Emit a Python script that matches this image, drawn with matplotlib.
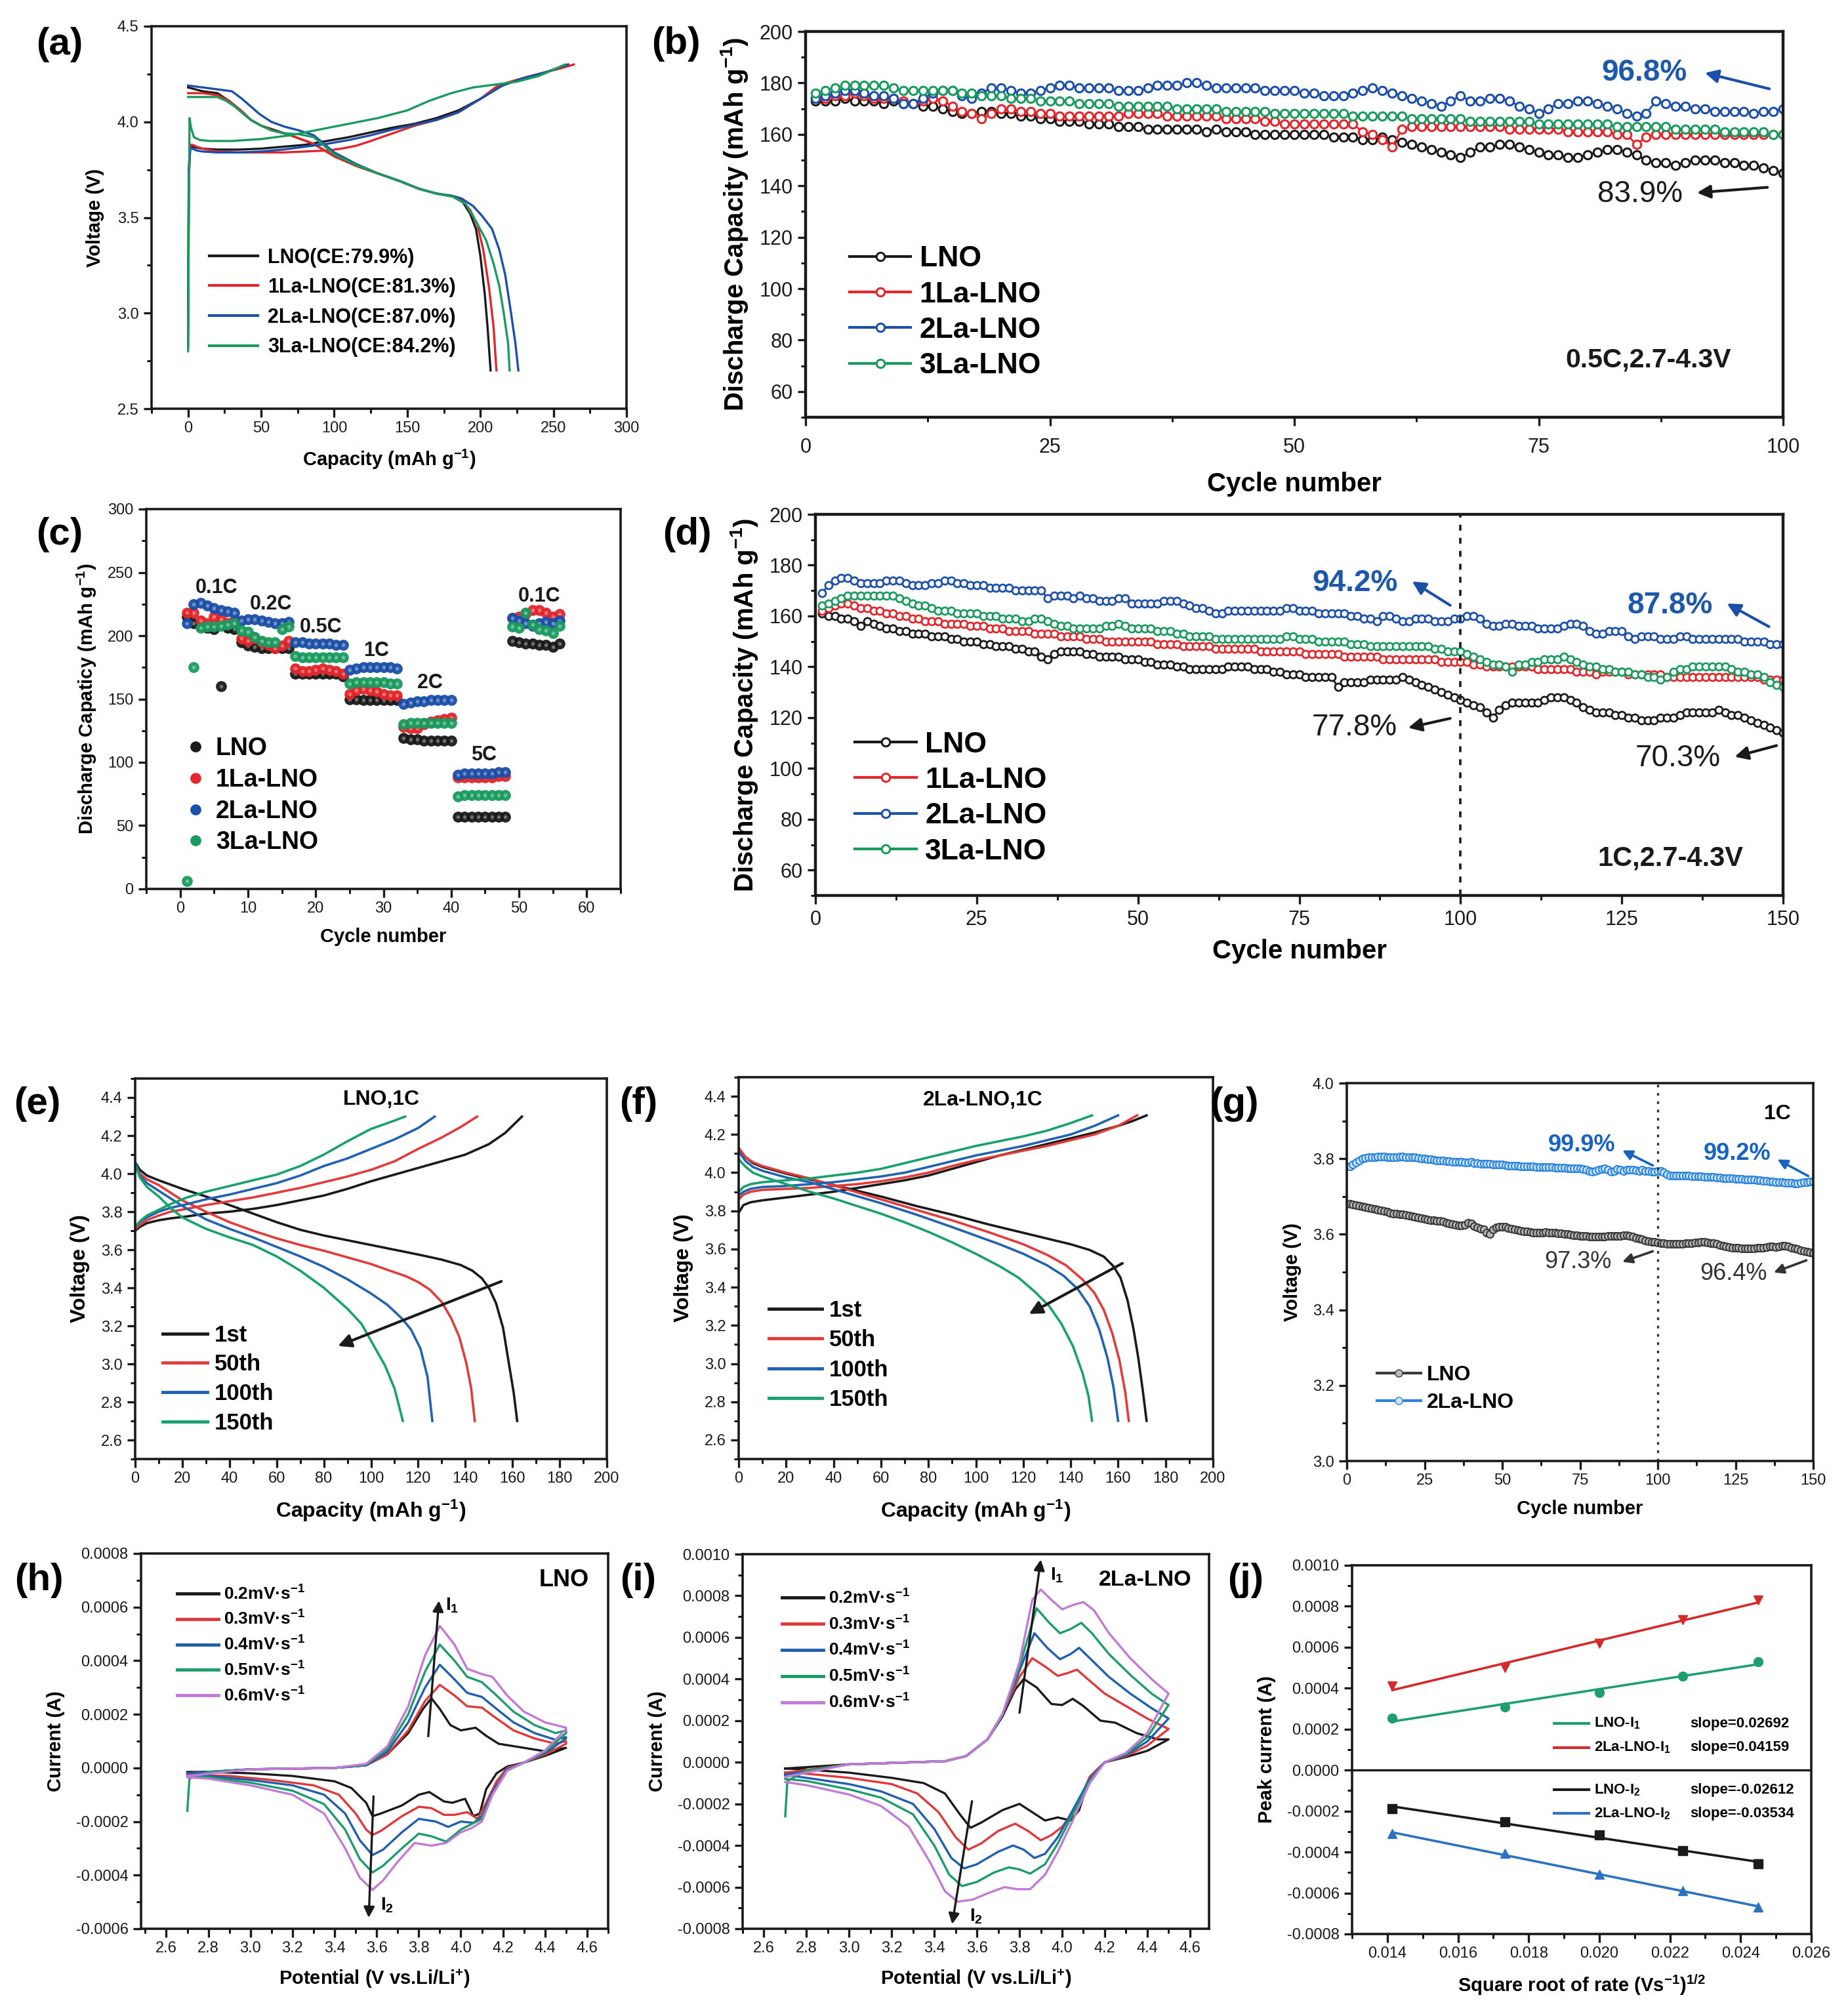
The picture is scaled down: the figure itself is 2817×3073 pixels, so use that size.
import numpy as np
import matplotlib
matplotlib.use('Agg')
import matplotlib.pyplot as plt
from matplotlib.ticker import MultipleLocator, FormatStrFormatter
from matplotlib.lines import Line2D

# ----------------------------------------------------------------- DATA
SAMPLES = ['LNO', '1La-LNO', '2La-LNO', '3La-LNO']

# (a) first charge / discharge
A_LABELS = ['LNO(CE:79.9%)', '1La-LNO(CE:81.3%)', '2La-LNO(CE:87.0%)', '3La-LNO(CE:84.2%)']
A_CH_X = [
    [0, 0.5, 1.5, 3, 6, 10, 20, 35, 50, 65, 80, 95, 110, 125, 140, 155, 170, 185, 200, 215, 230, 245, 260],
    [0, 0.5, 1.5, 3, 6, 10, 20, 35, 50, 65, 80, 95, 105, 115, 125, 140, 155, 170, 185, 200, 212, 225, 240, 255, 264],
    [0, 0.5, 1.5, 3, 6, 10, 20, 35, 50, 65, 80, 95, 110, 125, 140, 155, 170, 185, 200, 215, 230, 245, 260],
    [0, 0.5, 1, 2, 4, 8, 15, 30, 50, 70, 90, 110, 130, 150, 165, 180, 195, 210, 225, 240, 258]]
A_CH_Y = [
    [2.82, 3.70, 3.87, 3.87, 3.865, 3.86, 3.855, 3.855, 3.86, 3.87, 3.88, 3.90, 3.92, 3.945, 3.97, 3.99, 4.02, 4.06, 4.12, 4.19, 4.23, 4.26, 4.30],
    [3.00, 3.75, 3.88, 3.88, 3.87, 3.86, 3.845, 3.84, 3.84, 3.84, 3.845, 3.85, 3.86, 3.875, 3.90, 3.94, 3.98, 4.01, 4.05, 4.12, 4.19, 4.22, 4.25, 4.28, 4.30],
    [2.90, 3.75, 3.87, 3.86, 3.85, 3.845, 3.84, 3.84, 3.845, 3.855, 3.87, 3.885, 3.905, 3.93, 3.96, 3.985, 4.01, 4.05, 4.12, 4.19, 4.23, 4.26, 4.30],
    [2.80, 3.50, 4.02, 3.97, 3.92, 3.905, 3.90, 3.90, 3.91, 3.93, 3.96, 3.99, 4.02, 4.06, 4.11, 4.15, 4.18, 4.195, 4.21, 4.24, 4.30]]
A_DC_X = [
    [0, 10, 20, 28, 36, 43, 50, 58, 70, 86, 100, 115, 130, 145, 158, 170, 181, 188, 193, 197, 200, 203, 205, 207],
    [0, 10, 20, 28, 36, 43, 50, 58, 70, 86, 100, 115, 130, 145, 158, 170, 181, 188, 193, 198, 202, 206, 209, 211],
    [0, 10, 20, 30, 37, 43, 49, 57, 66, 76, 86, 100, 115, 130, 145, 158, 170, 180, 187, 195, 201, 208, 213, 217, 221, 224, 226],
    [0, 10, 20, 26, 32, 38, 43, 50, 57, 66, 76, 86, 100, 115, 130, 145, 158, 170, 181, 190, 197, 204, 209, 213, 216, 219, 220]]
A_DC_Y = [
    [4.18, 4.16, 4.15, 4.11, 4.06, 4.01, 3.98, 3.96, 3.93, 3.885, 3.82, 3.77, 3.73, 3.69, 3.65, 3.625, 3.61, 3.58, 3.52, 3.44, 3.30, 3.10, 2.92, 2.70],
    [4.15, 4.15, 4.14, 4.11, 4.06, 4.01, 3.98, 3.955, 3.93, 3.885, 3.82, 3.77, 3.73, 3.69, 3.65, 3.625, 3.61, 3.585, 3.54, 3.46, 3.33, 3.13, 2.93, 2.70],
    [4.19, 4.18, 4.17, 4.16, 4.12, 4.08, 4.04, 4.00, 3.975, 3.955, 3.93, 3.84, 3.78, 3.73, 3.69, 3.65, 3.625, 3.615, 3.60, 3.56, 3.51, 3.44, 3.33, 3.20, 3.00, 2.84, 2.70],
    [4.13, 4.13, 4.13, 4.11, 4.08, 4.04, 4.01, 3.98, 3.955, 3.94, 3.935, 3.92, 3.83, 3.775, 3.73, 3.69, 3.65, 3.625, 3.61, 3.57, 3.48, 3.38, 3.26, 3.14, 3.00, 2.84, 2.70]]

# (b) cycling 0.5C, 100 cycles
B_LNO = [173, 173, 173, 174, 173, 173, 173, 172, 173, 172,
         172, 171, 171, 170, 169, 168, 168, 169, 169, 168,
         168, 167, 167, 166, 166, 165, 165, 165, 164, 164,
         164, 163, 163, 163, 162, 162, 162, 162, 162, 162,
         161, 162, 161, 161, 161, 160, 160, 160, 160, 160,
         160, 160, 160, 159, 159, 159, 158, 158, 159, 158,
         157, 156, 155, 154, 153, 152, 151, 153, 155, 155,
         156, 156, 155, 154, 153, 152, 152, 151, 151, 152,
         153, 154, 154, 153, 152, 150, 149, 149, 148, 149,
         150, 150, 150, 149, 149, 148, 148, 147, 146, 145]
B_1LA = [174, 174, 175, 175, 176, 175, 174, 174, 174, 173,
         172, 173, 174, 173, 171, 169, 168, 166, 168, 170,
         170, 169, 169, 168, 168, 167, 167, 167, 167, 167,
         167, 167, 168, 168, 168, 168, 167, 167, 167, 167,
         167, 167, 166, 166, 166, 166, 165, 165, 164, 164,
         164, 164, 164, 164, 164, 164, 161, 160, 158, 155,
         162, 163, 163, 163, 163, 163, 163, 163, 163, 163,
         163, 162, 162, 162, 162, 162, 162, 161, 161, 161,
         161, 161, 160, 160, 156, 159, 160, 160, 160, 160,
         160, 160, 160, 160, 160, 160, 160, 160, 160, 160]
B_2LA = [174, 175, 176, 177, 177, 176, 175, 175, 174, 172,
         172, 174, 176, 177, 177, 175, 174, 176, 178, 178,
         177, 176, 176, 177, 178, 179, 179, 178, 178, 178,
         178, 177, 177, 177, 178, 179, 179, 179, 180, 180,
         179, 178, 178, 178, 178, 178, 177, 177, 177, 177,
         176, 176, 175, 175, 175, 176, 177, 178, 177, 176,
         175, 174, 173, 172, 171, 173, 175, 173, 173, 174,
         174, 173, 171, 170, 168, 170, 172, 172, 173, 173,
         172, 171, 170, 168, 167, 168, 173, 172, 171, 171,
         170, 170, 169, 169, 169, 169, 168, 169, 169, 170]
B_3LA = [176, 177, 178, 179, 179, 179, 179, 179, 178, 177,
         177, 177, 177, 177, 177, 176, 176, 175, 175, 175,
         174, 174, 174, 173, 173, 173, 173, 172, 172, 172,
         172, 171, 171, 171, 171, 171, 171, 170, 170, 170,
         170, 170, 169, 169, 169, 169, 169, 168, 168, 168,
         168, 168, 168, 168, 168, 167, 167, 167, 167, 167,
         167, 166, 166, 166, 166, 166, 166, 165, 165, 165,
         165, 165, 165, 165, 164, 164, 164, 164, 164, 164,
         164, 164, 163, 163, 163, 163, 163, 163, 162, 162,
         162, 162, 162, 161, 161, 161, 161, 161, 160, 160]

# (c) rate capability, 56 cycles
C_LNO = [215, 210, 208, 206, 205, 160, 206, 205,
         195, 192, 191, 190, 190, 190, 190, 190,
         170, 170, 170, 170, 170, 170, 170, 168,
         150, 150, 149, 149, 149, 149, 149, 149,
         119, 118, 118, 117, 117, 117, 117, 117,
         57, 57, 57, 57, 57, 57, 57, 57,
         196, 195, 194, 194, 193, 193, 191, 194]
C_1LA = [218, 218, 212, 210, 215, 213, 210, 212,
         198, 196, 198, 195, 193, 190, 192, 196,
         174, 172, 172, 173, 174, 173, 172, 170,
         154, 157, 158, 157, 156, 154, 153, 153,
         128, 127, 127, 130, 132, 133, 134, 135,
         88, 88, 88, 88, 88, 88, 89, 89,
         214, 215, 217, 220, 220, 218, 215, 217]
C_2LA = [210, 225, 226, 224, 222, 220, 219, 218,
         212, 213, 213, 212, 211, 210, 210, 211,
         195, 195, 194, 194, 194, 194, 193, 193,
         173, 174, 175, 175, 175, 175, 175, 174,
         146, 147, 148, 148, 149, 149, 149, 149,
         90, 91, 91, 91, 91, 91, 92, 92,
         214, 212, 210, 208, 210, 211, 210, 212]
C_3LA = [6, 175, 206, 207, 207, 208, 209, 210,
         204, 203, 199, 196, 195, 195, 205, 207,
         184, 183, 183, 183, 183, 183, 183, 183,
         162, 163, 163, 163, 163, 163, 162, 162,
         130, 131, 131, 131, 131, 131, 131, 131,
         73, 74, 74, 74, 74, 74, 74, 74,
         207, 206, 218, 209, 205, 204, 202, 208]
C_RATE_LABELS = ['0.1C', '0.2C', '0.5C', '1C', '2C', '5C', '0.1C']
C_RATE_X = [5.4, 13.4, 20.8, 28.9, 36.9, 44.8, 53.0]
C_RATE_Y = [237.7, 225.0, 206.8, 188.3, 162.8, 105.8, 231.3]

# (d) cycling 1C, 150 cycles
D_LNO = [161, 160, 160, 159, 159, 158, 156, 158, 157, 156,
         155, 155, 154, 154, 153, 153, 153, 152, 152, 152,
         151, 151, 150, 150, 150, 149, 149, 148, 148, 148,
         147, 147, 146, 146, 144, 143, 145, 146, 146, 146,
         146, 145, 145, 144, 144, 144, 144, 143, 143, 143,
         142, 142, 141, 141, 141, 140, 140, 139, 139, 139,
         139, 139, 139, 140, 140, 140, 140, 139, 139, 139,
         138, 138, 137, 137, 137, 136, 136, 136, 136, 136,
         132, 134, 134, 134, 134, 135, 135, 135, 135, 135,
         136, 135, 134, 133, 132, 131, 130, 129, 128, 127,
         126, 125, 124, 122, 120, 123, 125, 126, 126, 126,
         126, 126, 127, 128, 128, 128, 127, 126, 124, 123,
         122, 122, 122, 121, 121, 120, 120, 119, 119, 119,
         120, 120, 120, 121, 122, 122, 122, 122, 122, 123,
         122, 121, 121, 120, 119, 118, 117, 116, 115, 114]
D_1LA = [162, 163, 164, 165, 165, 164, 163, 163, 162, 162,
         161, 161, 160, 160, 159, 159, 158, 158, 158, 157,
         157, 157, 157, 156, 156, 156, 155, 155, 155, 154,
         154, 154, 154, 153, 153, 153, 153, 152, 152, 152,
         152, 151, 151, 151, 150, 150, 150, 150, 150, 150,
         150, 150, 149, 149, 149, 149, 148, 148, 148, 148,
         148, 147, 147, 147, 147, 147, 147, 147, 146, 146,
         146, 146, 146, 146, 146, 145, 145, 145, 145, 145,
         145, 144, 144, 144, 144, 144, 144, 143, 143, 143,
         143, 143, 143, 143, 143, 143, 142, 142, 142, 142,
         142, 141, 141, 140, 140, 140, 140, 140, 140, 140,
         140, 139, 139, 139, 139, 139, 139, 138, 138, 138,
         137, 138, 138, 138, 138, 137, 137, 137, 137, 137,
         137, 136, 136, 136, 136, 136, 136, 136, 136, 136,
         136, 136, 136, 136, 136, 136, 135, 135, 135, 135]
D_2LA = [169, 172, 174, 175, 175, 174, 173, 173, 173, 173,
         174, 174, 174, 173, 172, 172, 172, 173, 173, 174,
         174, 173, 173, 172, 172, 172, 171, 171, 171, 171,
         170, 170, 170, 170, 170, 167, 168, 168, 168, 167,
         168, 167, 167, 166, 166, 166, 167, 167, 165, 165,
         165, 165, 165, 166, 166, 166, 165, 164, 163, 163,
         162, 161, 161, 162, 162, 162, 162, 162, 162, 162,
         162, 162, 163, 163, 162, 162, 162, 161, 161, 161,
         161, 161, 160, 160, 159, 159, 158, 160, 160, 159,
         158, 158, 159, 159, 159, 158, 158, 158, 159, 159,
         160, 160, 159, 157, 156, 156, 157, 157, 156, 156,
         156, 155, 155, 155, 155, 156, 157, 157, 156, 154,
         153, 153, 154, 154, 154, 152, 151, 152, 152, 152,
         151, 151, 151, 152, 152, 151, 151, 151, 151, 151,
         151, 151, 151, 150, 150, 150, 150, 149, 149, 149]
D_3LA = [164, 165, 166, 167, 168, 168, 168, 168, 168, 168,
         168, 168, 167, 166, 165, 164, 164, 163, 162, 162,
         162, 161, 161, 161, 161, 160, 160, 160, 159, 159,
         159, 158, 158, 159, 159, 158, 157, 156, 156, 155,
         155, 155, 155, 155, 156, 156, 157, 156, 155, 155,
         155, 155, 154, 154, 154, 153, 153, 152, 152, 152,
         152, 151, 151, 151, 151, 151, 151, 151, 151, 151,
         151, 151, 152, 152, 151, 151, 151, 150, 150, 150,
         150, 150, 149, 149, 149, 148, 148, 148, 148, 148,
         148, 148, 148, 148, 148, 147, 147, 146, 146, 146,
         145, 144, 143, 142, 141, 141, 140, 138, 141, 141,
         142, 142, 143, 143, 143, 144, 143, 142, 141, 140,
         140, 139, 139, 138, 138, 138, 137, 137, 136, 136,
         135, 136, 138, 139, 139, 140, 140, 140, 140, 140,
         140, 139, 138, 138, 137, 137, 136, 134, 133, 132]

# (e) LNO 1C profiles (1st, 50th, 100th, 150th)
CYCLE_LABELS = ['1st', '50th', '100th', '150th']
E_CH_X = [
    [0, 2, 5, 10, 15, 22, 30, 40, 50, 60, 70, 80, 90, 100, 110, 120, 130, 140, 150, 157, 164],
    [0, 2, 5, 10, 15, 22, 30, 40, 50, 60, 70, 80, 90, 100, 110, 120, 130, 138, 145],
    [0, 2, 5, 10, 15, 22, 30, 40, 50, 60, 70, 80, 90, 100, 110, 120, 127],
    [0, 2, 5, 10, 15, 22, 30, 40, 50, 60, 70, 80, 90, 100, 108, 114.5]]
E_CH_Y = [
    [3.70, 3.72, 3.74, 3.755, 3.765, 3.775, 3.79, 3.80, 3.815, 3.835, 3.86, 3.885, 3.92, 3.96, 3.995, 4.03, 4.065, 4.10, 4.155, 4.215, 4.30],
    [3.71, 3.73, 3.755, 3.78, 3.80, 3.815, 3.835, 3.855, 3.875, 3.90, 3.925, 3.955, 3.985, 4.02, 4.065, 4.13, 4.19, 4.245, 4.30],
    [3.72, 3.745, 3.77, 3.80, 3.82, 3.84, 3.865, 3.89, 3.92, 3.95, 3.99, 4.04, 4.08, 4.13, 4.18, 4.24, 4.30],
    [3.72, 3.75, 3.78, 3.81, 3.84, 3.875, 3.905, 3.935, 3.965, 3.995, 4.04, 4.10, 4.17, 4.235, 4.27, 4.30]]
E_DC_X = [
    [0, 2, 5, 10, 20, 30, 40, 50, 60, 70, 80, 90, 100, 110, 120, 130, 138, 143, 147, 150, 153, 156, 158.5, 160.5, 162],
    [0, 2, 5, 10, 20, 30, 40, 50, 60, 70, 80, 90, 100, 108, 115, 120, 125, 130, 134, 137.5, 140.5, 142.5, 144],
    [0, 2, 5, 10, 20, 30, 40, 50, 60, 70, 80, 90, 100, 107, 113, 117, 121, 124, 126],
    [0, 2, 5, 10, 15, 20, 30, 40, 50, 60, 70, 80, 90, 96, 101, 106, 110, 113.5]]
E_DC_Y = [
    [4.06, 4.02, 3.99, 3.965, 3.92, 3.88, 3.835, 3.79, 3.745, 3.705, 3.675, 3.65, 3.625, 3.60, 3.575, 3.548, 3.52, 3.49, 3.45, 3.40, 3.32, 3.19, 3.00, 2.85, 2.70],
    [4.05, 4.00, 3.97, 3.94, 3.86, 3.80, 3.745, 3.70, 3.66, 3.625, 3.595, 3.56, 3.525, 3.49, 3.46, 3.43, 3.39, 3.325, 3.24, 3.14, 3.00, 2.87, 2.70],
    [4.06, 3.99, 3.95, 3.91, 3.83, 3.76, 3.71, 3.665, 3.615, 3.565, 3.51, 3.445, 3.37, 3.31, 3.24, 3.18, 3.08, 2.93, 2.70],
    [4.05, 3.98, 3.93, 3.88, 3.82, 3.77, 3.71, 3.665, 3.625, 3.565, 3.49, 3.40, 3.29, 3.21, 3.10, 2.99, 2.87, 2.70]]

# (f) 2La-LNO 1C profiles
F_CH_X = [
    [0, 1, 2, 5, 10, 20, 30, 40, 50, 60, 70, 80, 90, 100, 110, 120, 130, 140, 150, 160, 166, 172],
    [0, 2, 5, 10, 20, 30, 40, 50, 60, 70, 80, 90, 100, 110, 120, 130, 140, 150, 160, 168],
    [0, 2, 5, 10, 20, 30, 40, 50, 60, 70, 80, 90, 100, 110, 120, 130, 140, 150, 160],
    [0, 2, 5, 10, 20, 30, 40, 50, 60, 70, 80, 90, 100, 110, 120, 130, 140, 149]]
F_CH_Y = [
    [3.79, 3.81, 3.83, 3.845, 3.855, 3.87, 3.885, 3.90, 3.92, 3.94, 3.96, 3.985, 4.02, 4.055, 4.09, 4.12, 4.15, 4.18, 4.21, 4.245, 4.27, 4.30],
    [3.86, 3.885, 3.90, 3.91, 3.915, 3.92, 3.93, 3.94, 3.955, 3.975, 4.00, 4.035, 4.065, 4.09, 4.115, 4.14, 4.17, 4.20, 4.245, 4.30],
    [3.88, 3.90, 3.915, 3.925, 3.93, 3.94, 3.95, 3.965, 3.98, 4.00, 4.03, 4.06, 4.09, 4.115, 4.14, 4.17, 4.20, 4.245, 4.30],
    [3.90, 3.925, 3.94, 3.95, 3.96, 3.97, 3.985, 4.00, 4.02, 4.05, 4.08, 4.11, 4.14, 4.165, 4.19, 4.22, 4.26, 4.30]]
F_DC_X = [
    [0, 3, 6, 10, 20, 30, 45, 60, 75, 90, 105, 120, 130, 140, 148, 154, 158, 161, 164, 166.5, 168.5, 170.5, 172],
    [0, 3, 6, 10, 20, 30, 45, 60, 75, 90, 105, 120, 130, 138, 145, 150, 154, 157.5, 160.5, 163, 164.5],
    [0, 3, 6, 10, 20, 30, 45, 60, 75, 90, 100, 110, 120, 130, 137, 143, 148, 152, 155.5, 158, 160],
    [0, 3, 6, 10, 20, 30, 40, 50, 60, 70, 80, 90, 100, 110, 118, 125, 131, 136, 141, 145, 147.5, 149]]
F_DC_Y = [
    [4.12, 4.08, 4.05, 4.03, 3.995, 3.965, 3.92, 3.875, 3.825, 3.78, 3.73, 3.685, 3.655, 3.625, 3.595, 3.56, 3.51, 3.45, 3.33, 3.18, 3.03, 2.85, 2.70],
    [4.13, 4.08, 4.055, 4.035, 4.00, 3.97, 3.915, 3.86, 3.805, 3.75, 3.69, 3.625, 3.57, 3.515, 3.44, 3.37, 3.28, 3.16, 3.02, 2.85, 2.70],
    [4.11, 4.06, 4.03, 4.01, 3.975, 3.95, 3.895, 3.84, 3.78, 3.715, 3.67, 3.625, 3.575, 3.515, 3.46, 3.39, 3.30, 3.18, 3.03, 2.88, 2.70],
    [4.07, 4.03, 4.00, 3.98, 3.94, 3.90, 3.865, 3.825, 3.785, 3.74, 3.69, 3.635, 3.575, 3.51, 3.45, 3.375, 3.30, 3.21, 3.09, 2.95, 2.83, 2.70]]

# (g) mid-point voltage, 150 cycles
G_LNO = [3.680, 3.678, 3.677, 3.675, 3.674, 3.672, 3.670, 3.668, 3.666, 3.665,
         3.663, 3.661, 3.659, 3.657, 3.655, 3.654, 3.653, 3.652, 3.651, 3.650,
         3.648, 3.646, 3.644, 3.642, 3.640, 3.639, 3.638, 3.637, 3.636, 3.635,
         3.633, 3.631, 3.629, 3.627, 3.625, 3.624, 3.623, 3.625, 3.630, 3.628,
         3.622, 3.618, 3.615, 3.612, 3.605, 3.600, 3.612, 3.618, 3.620, 3.620,
         3.619, 3.617, 3.615, 3.613, 3.611, 3.610, 3.608, 3.607, 3.606, 3.605,
         3.605, 3.605, 3.605, 3.606, 3.605, 3.604, 3.604, 3.603, 3.602, 3.601,
         3.600, 3.599, 3.598, 3.597, 3.596, 3.595, 3.595, 3.594, 3.594, 3.593,
         3.593, 3.593, 3.594, 3.595, 3.595, 3.595, 3.595, 3.596, 3.597, 3.597,
         3.596, 3.593, 3.590, 3.588, 3.586, 3.584, 3.582, 3.580, 3.579, 3.578,
         3.577, 3.576, 3.575, 3.575, 3.574, 3.574, 3.575, 3.575, 3.576, 3.576,
         3.577, 3.578, 3.578, 3.579, 3.579, 3.578, 3.577, 3.576, 3.575, 3.572,
         3.569, 3.567, 3.566, 3.565, 3.565, 3.564, 3.563, 3.562, 3.562, 3.562,
         3.563, 3.564, 3.565, 3.565, 3.566, 3.567, 3.567, 3.566, 3.567, 3.569,
         3.570, 3.568, 3.565, 3.562, 3.560, 3.558, 3.556, 3.554, 3.552, 3.550]
G_2LA = [3.780, 3.785, 3.790, 3.795, 3.800, 3.802, 3.803, 3.803, 3.804, 3.805,
         3.805, 3.805, 3.804, 3.804, 3.803, 3.804, 3.805, 3.805, 3.804, 3.804,
         3.803, 3.803, 3.802, 3.801, 3.800, 3.799, 3.798, 3.797, 3.796, 3.795,
         3.795, 3.794, 3.793, 3.792, 3.792, 3.791, 3.791, 3.790, 3.790, 3.791,
         3.789, 3.788, 3.787, 3.787, 3.786, 3.786, 3.785, 3.785, 3.784, 3.785,
         3.783, 3.782, 3.782, 3.781, 3.781, 3.780, 3.780, 3.780, 3.779, 3.779,
         3.778, 3.778, 3.778, 3.777, 3.777, 3.777, 3.776, 3.776, 3.776, 3.776,
         3.775, 3.775, 3.775, 3.775, 3.774, 3.773, 3.771, 3.767, 3.765, 3.768,
         3.770, 3.772, 3.775, 3.770, 3.765, 3.768, 3.772, 3.770, 3.768, 3.770,
         3.771, 3.770, 3.769, 3.768, 3.770, 3.768, 3.767, 3.766, 3.766, 3.768,
         3.768, 3.764, 3.758, 3.756, 3.755, 3.756, 3.756, 3.755, 3.755, 3.755,
         3.754, 3.754, 3.753, 3.753, 3.752, 3.752, 3.751, 3.751, 3.750, 3.750,
         3.749, 3.749, 3.748, 3.748, 3.747, 3.747, 3.746, 3.745, 3.745, 3.744,
         3.744, 3.743, 3.743, 3.742, 3.741, 3.740, 3.739, 3.738, 3.737, 3.737,
         3.736, 3.736, 3.736, 3.735, 3.735, 3.736, 3.737, 3.738, 3.739, 3.740]

# (h) CV of LNO, current in units of 1e-4 A
SCAN_LABELS = ['0.2mV·s$^{-1}$', '0.3mV·s$^{-1}$', '0.4mV·s$^{-1}$', '0.5mV·s$^{-1}$', '0.6mV·s$^{-1}$']
CURRENT_UNIT = 1e-4
H_UP_V = [
    [2.70, 3.00, 3.40, 3.55, 3.65, 3.75, 3.82, 3.86, 3.90, 3.95, 4.00, 4.07, 4.12, 4.18, 4.30, 4.40, 4.50],
    [2.70, 3.00, 3.40, 3.55, 3.65, 3.75, 3.83, 3.90, 3.97, 4.03, 4.10, 4.16, 4.25, 4.35, 4.45, 4.50],
    [2.70, 3.00, 3.40, 3.55, 3.65, 3.75, 3.83, 3.90, 3.97, 4.03, 4.10, 4.17, 4.25, 4.35, 4.45, 4.50],
    [2.70, 2.71, 2.80, 3.00, 3.40, 3.55, 3.65, 3.75, 3.83, 3.90, 3.97, 4.03, 4.10, 4.17, 4.25, 4.35, 4.45, 4.50],
    [2.70, 3.00, 3.40, 3.55, 3.65, 3.75, 3.83, 3.90, 3.97, 4.03, 4.10, 4.15, 4.22, 4.30, 4.40, 4.50]]
H_UP_I = [
    [-0.20, -0.05, 0.00, 0.10, 0.50, 1.30, 2.20, 2.60, 2.20, 1.60, 1.40, 1.50, 1.20, 0.90, 0.75, 0.62, 0.75],
    [-0.20, -0.05, 0.00, 0.10, 0.50, 1.40, 2.50, 3.10, 2.70, 2.30, 2.25, 1.90, 1.40, 1.10, 0.90, 1.00],
    [-0.20, -0.05, 0.00, 0.10, 0.60, 1.70, 3.00, 3.85, 3.30, 2.80, 2.65, 2.20, 1.70, 1.30, 1.05, 1.15],
    [-1.60, -0.40, -0.15, -0.05, 0.00, 0.12, 0.70, 2.00, 3.60, 4.60, 4.00, 3.40, 3.20, 2.70, 2.10, 1.60, 1.30, 1.40],
    [-0.30, -0.05, 0.00, 0.15, 0.80, 2.30, 4.20, 5.30, 4.60, 3.70, 3.50, 3.40, 2.70, 2.10, 1.70, 1.50]]
H_DN_V = [
    [4.50, 4.40, 4.30, 4.22, 4.17, 4.12, 4.09, 4.06, 4.02, 3.96, 3.92, 3.85, 3.80, 3.72, 3.62, 3.58, 3.55, 3.48, 3.40, 3.20, 3.00, 2.80, 2.70],
    [4.50, 4.40, 4.30, 4.22, 4.17, 4.12, 4.08, 4.03, 3.97, 3.92, 3.86, 3.80, 3.72, 3.62, 3.58, 3.55, 3.50, 3.42, 3.30, 3.10, 2.90, 2.70],
    [4.50, 4.40, 4.30, 4.22, 4.15, 4.10, 4.06, 4.00, 3.94, 3.88, 3.80, 3.72, 3.63, 3.58, 3.52, 3.45, 3.35, 3.20, 3.00, 2.80, 2.70],
    [4.50, 4.40, 4.30, 4.22, 4.15, 4.10, 4.05, 4.00, 3.93, 3.86, 3.80, 3.72, 3.63, 3.58, 3.52, 3.45, 3.35, 3.20, 3.00, 2.80, 2.70],
    [4.50, 4.40, 4.30, 4.22, 4.15, 4.10, 4.05, 4.00, 3.93, 3.86, 3.78, 3.70, 3.63, 3.58, 3.52, 3.45, 3.35, 3.20, 3.00, 2.80, 2.70]]
H_DN_I = [
    [0.75, 0.45, 0.20, 0.05, -0.20, -0.80, -1.70, -1.80, -1.15, -1.30, -1.25, -0.90, -1.00, -1.40, -1.70, -1.80, -1.30, -0.75, -0.50, -0.30, -0.20, -0.15, -0.15],
    [0.90, 0.50, 0.20, 0.00, -0.50, -1.30, -1.90, -1.65, -1.75, -1.75, -1.50, -1.45, -1.80, -2.35, -2.50, -2.30, -1.70, -1.00, -0.65, -0.45, -0.30, -0.25],
    [1.10, 0.55, 0.20, -0.05, -0.90, -1.80, -2.05, -2.00, -2.20, -2.00, -1.90, -2.40, -3.05, -3.25, -2.70, -1.70, -1.00, -0.65, -0.45, -0.30, -0.30],
    [1.30, 0.60, 0.20, -0.10, -1.00, -1.90, -2.10, -2.30, -2.75, -2.55, -2.45, -3.00, -3.65, -3.90, -3.40, -2.30, -1.35, -0.85, -0.55, -0.35, -0.30],
    [1.45, 0.65, 0.20, -0.10, -1.00, -2.00, -2.25, -2.40, -2.80, -2.90, -2.80, -3.50, -4.20, -4.55, -4.10, -3.00, -1.70, -1.00, -0.65, -0.40, -0.35]]

# (i) CV of 2La-LNO, current in units of 1e-4 A
I_UP_V = [
    [2.70, 3.00, 3.30, 3.45, 3.55, 3.65, 3.72, 3.78, 3.82, 3.88, 3.95, 4.00, 4.05, 4.10, 4.18, 4.25, 4.35, 4.45, 4.50],
    [2.70, 3.00, 3.30, 3.45, 3.55, 3.65, 3.72, 3.80, 3.86, 3.92, 3.98, 4.03, 4.07, 4.12, 4.20, 4.30, 4.40, 4.50],
    [2.70, 3.00, 3.30, 3.45, 3.55, 3.65, 3.72, 3.80, 3.87, 3.93, 3.99, 4.04, 4.08, 4.13, 4.22, 4.32, 4.42, 4.50],
    [2.70, 2.71, 2.80, 3.00, 3.30, 3.45, 3.55, 3.65, 3.72, 3.80, 3.88, 3.94, 3.99, 4.04, 4.09, 4.14, 4.22, 4.32, 4.42, 4.50],
    [2.70, 3.00, 3.30, 3.45, 3.55, 3.65, 3.72, 3.80, 3.86, 3.90, 3.95, 4.00, 4.05, 4.10, 4.15, 4.22, 4.32, 4.42, 4.50]]
I_UP_I = [
    [-0.30, -0.10, 0.00, 0.05, 0.30, 1.10, 2.20, 3.50, 4.00, 3.60, 2.80, 2.75, 3.05, 2.70, 2.00, 1.90, 1.40, 1.10, 1.10],
    [-0.50, -0.10, 0.00, 0.05, 0.30, 1.10, 2.30, 4.10, 5.00, 4.60, 4.15, 4.30, 4.45, 4.00, 3.30, 2.70, 2.10, 1.60],
    [-0.60, -0.10, 0.00, 0.05, 0.30, 1.10, 2.30, 4.40, 6.20, 5.50, 4.95, 5.20, 5.50, 5.00, 4.10, 3.30, 2.60, 2.10],
    [-2.60, -0.90, -0.40, -0.10, 0.00, 0.05, 0.30, 1.10, 2.30, 4.60, 7.40, 6.70, 6.20, 6.40, 6.70, 6.20, 5.20, 4.20, 3.30, 2.75],
    [-0.70, -0.10, 0.00, 0.05, 0.30, 1.10, 2.30, 4.80, 7.80, 8.30, 7.80, 7.35, 7.55, 7.70, 7.30, 6.20, 5.00, 4.00, 3.30]]
I_DN_V = [
    [4.50, 4.40, 4.30, 4.20, 4.13, 4.08, 4.04, 3.98, 3.92, 3.86, 3.80, 3.72, 3.62, 3.57, 3.52, 3.45, 3.35, 3.20, 3.00, 2.80, 2.70],
    [4.50, 4.40, 4.30, 4.20, 4.13, 4.06, 4.00, 3.95, 3.90, 3.84, 3.78, 3.70, 3.62, 3.56, 3.50, 3.42, 3.32, 3.20, 3.00, 2.80, 2.70],
    [4.50, 4.40, 4.30, 4.20, 4.13, 4.05, 3.98, 3.92, 3.87, 3.82, 3.77, 3.70, 3.60, 3.54, 3.48, 3.40, 3.30, 3.15, 3.00, 2.80, 2.70],
    [4.50, 4.40, 4.30, 4.20, 4.13, 4.05, 3.98, 3.92, 3.85, 3.80, 3.75, 3.68, 3.60, 3.53, 3.47, 3.40, 3.30, 3.15, 3.00, 2.80, 2.70],
    [4.50, 4.40, 4.30, 4.20, 4.13, 4.05, 3.98, 3.92, 3.85, 3.79, 3.73, 3.65, 3.58, 3.51, 3.45, 3.38, 3.28, 3.15, 3.00, 2.80, 2.70]]
I_DN_I = [
    [1.10, 0.55, 0.25, 0.00, -0.70, -2.30, -2.80, -2.65, -2.80, -2.40, -2.00, -2.30, -2.90, -3.15, -2.50, -1.50, -1.00, -0.75, -0.50, -0.35, -0.30],
    [1.60, 0.80, 0.30, 0.00, -0.70, -2.30, -3.10, -3.50, -3.75, -3.30, -2.95, -3.30, -3.90, -4.20, -3.60, -2.40, -1.50, -1.05, -0.75, -0.55, -0.50],
    [2.10, 1.00, 0.35, 0.00, -0.80, -2.30, -3.60, -4.40, -4.60, -4.20, -4.00, -4.30, -4.90, -5.10, -4.60, -3.20, -2.00, -1.40, -1.05, -0.75, -0.60],
    [2.75, 1.20, 0.40, 0.00, -0.90, -2.50, -3.90, -4.90, -5.35, -5.15, -5.05, -5.30, -5.75, -5.95, -5.40, -4.00, -2.50, -1.70, -1.30, -0.90, -0.80],
    [3.30, 1.40, 0.45, 0.00, -1.00, -2.80, -4.30, -5.40, -6.10, -6.10, -6.00, -6.30, -6.60, -6.70, -6.20, -4.80, -3.10, -2.10, -1.55, -1.10, -0.95]]

# (j) peak current vs square root of scan rate
J_SQRT_RATE = [0.01414, 0.01732, 0.02000, 0.02236, 0.02449]
J_LNO_I1 = [0.000255, 0.000307, 0.000380, 0.000460, 0.000530]
J_2LA_I1 = [0.000411, 0.000500, 0.000619, 0.000734, 0.000830]
J_LNO_I2 = [-0.000188, -0.000253, -0.000316, -0.000393, -0.000457]
J_2LA_I2 = [-0.000310, -0.000406, -0.000508, -0.000590, -0.000668]
J_NAMES = ['LNO-I$_1$', '2La-LNO-I$_1$', 'LNO-I$_2$', '2La-LNO-I$_2$']
J_SLOPES = ['slope=0.02692', 'slope=0.04159', 'slope=-0.02612', 'slope=-0.03534']

# ----------------------------------------------------------------- STYLE
W, H, DPI = 2817, 3073, 100
plt.rcParams['font.family'] = ['Liberation Sans', 'DejaVu Sans']
plt.rcParams['mathtext.fontset'] = 'custom'
plt.rcParams['mathtext.rm'] = 'Liberation Sans'
plt.rcParams['mathtext.bf'] = 'Liberation Sans:bold'
plt.rcParams['mathtext.it'] = 'Liberation Sans:italic'
plt.rcParams['mathtext.default'] = 'bf'
plt.rcParams['axes.unicode_minus'] = False

K = '#1a1a1a'
R = '#e2262b'
B = '#1b4fa8'
G = '#1a9b5e'
COL4 = [K, R, B, G]
COL4b = [K, '#e23b3b', '#2163b0', '#19a06f']
CV5 = [K, '#e0383a', '#1f5fae', '#1c9c6b', '#c27ad6']
TXT_BLUE = '#1d58ab'

fig = plt.figure(figsize=(W / DPI, H / DPI), dpi=DPI)
fig.patch.set_facecolor('white')


def add_ax(x1, y1, x2, y2):
    return fig.add_axes([x1 / W, 1 - y2 / H, (x2 - x1) / W, (y2 - y1) / H])


def style(ax, xlim, ylim, xmaj, xmin, ymaj, ymin, xfmt, yfmt, fs, spw=2.6, xpad=5):
    ax.set_xlim(*xlim)
    ax.set_ylim(*ylim)
    ax.xaxis.set_major_locator(MultipleLocator(xmaj))
    ax.xaxis.set_minor_locator(MultipleLocator(xmin))
    ax.yaxis.set_major_locator(MultipleLocator(ymaj))
    ax.yaxis.set_minor_locator(MultipleLocator(ymin))
    ax.xaxis.set_major_formatter(FormatStrFormatter(xfmt))
    ax.yaxis.set_major_formatter(FormatStrFormatter(yfmt))
    ax.tick_params(which='major', direction='out', length=9, width=2.4, labelsize=fs,
                   top=False, right=False, pad=5, colors=K)
    ax.tick_params(axis='x', which='major', pad=xpad)
    ax.tick_params(which='minor', direction='out', length=5, width=2.0, top=False, right=False)
    for s in ax.spines.values():
        s.set_linewidth(spw)
        s.set_color(K)


def label(ax, xl, yl, fs, xpad=8, ypad=8):
    ax.set_xlabel(xl, fontsize=fs, fontweight='bold', labelpad=xpad)
    ax.set_ylabel(yl, fontsize=fs, fontweight='bold', labelpad=ypad)


def letter(x, y, s):
    fig.text(x / W, 1 - y / H, s, fontsize=42, fontweight='bold', ha='center', va='center')


def leg(ax, handles, labels, anchor, fs, hl, ls, htp=0.3, weight='bold'):
    lg = ax.legend(handles, labels, loc='upper left', bbox_to_anchor=anchor, frameon=False,
                   prop={'size': fs, 'weight': weight}, handlelength=hl, labelspacing=ls,
                   handletextpad=htp, borderpad=0, borderaxespad=0, numpoints=1)
    return lg


def arrow(ax, tail, head, color, lw=3.0, ms=30):
    ax.annotate('', xy=head, xytext=tail,
                arrowprops=dict(arrowstyle='-|>', color=color, lw=lw, mutation_scale=ms,
                                shrinkA=0, shrinkB=0))


GAB = "Capacity (mAh g$^{-1}$)"

# ----------------------------------------------------------------- (a)
ax = add_ax(231, 40, 955, 623)
for i in range(4):
    ax.plot(A_CH_X[i], A_CH_Y[i], color=COL4[i], lw=2.4)
    ax.plot(A_DC_X[i], A_DC_Y[i], color=COL4[i], lw=2.4)
style(ax, (-25, 300), (2.5, 4.5), 50, 25, 0.5, 0.25, '%d', '%.1f', 17)
label(ax, GAB, 'Voltage (V)', 21, 13, 14)
hs = [Line2D([], [], color=c, lw=3) for c in COL4]
leg(ax, hs, A_LABELS, (0.122, 0.421), 22, 2.4, 0.51, htp=0.5)
letter(91, 68, '(a)')

# ----------------------------------------------------------------- (b)
ax = add_ax(1228, 48, 2718, 636)
cyc_b = np.arange(1, len(B_LNO) + 1)
for data, c in zip([B_LNO, B_1LA, B_2LA, B_3LA], COL4):
    ax.plot(cyc_b, data, color=c, lw=2.0, marker='o', ms=9, mfc='white', mec=c, mew=2.2)
style(ax, (0, 100), (50, 200), 25, 12.5, 20, 10, '%d', '%d', 22, spw=3.2, xpad=13)
label(ax, 'Cycle number', 'Discharge Capacity (mAh g$^{-1}$)', 29, 16, 10)
hs = [Line2D([], [], color=c, lw=3, marker='o', ms=9, mfc='white', mec=c, mew=2.2) for c in COL4]
leg(ax, hs, SAMPLES, (0.045, 0.445), 32, 2.1, 0.30)
arrow(ax, (98.6, 177.7), (92.0, 183.9), B)
ax.text(85.8, 183.9, '96.8%', color=TXT_BLUE, fontsize=33, fontweight='bold', ha='center', va='center')
arrow(ax, (98.4, 139.4), (91.2, 137.3), K)
ax.text(85.4, 136.7, '83.9%', color=K, fontsize=33, ha='center', va='center')
ax.text(86.2, 72.2, '0.5C,2.7-4.3V', color=K, fontsize=29.5, fontweight='bold', ha='center', va='center')
letter(1030, 67, '(b)')

# ----------------------------------------------------------------- (c)
ax = add_ax(223, 776, 946, 1355)
cyc_c = np.arange(1, len(C_LNO) + 1)
for data, c in zip([C_LNO, C_1LA, C_2LA, C_3LA], COL4):
    ax.plot(cyc_c, data, ls='none', marker='o', ms=11, mfc=c, mec=c, mew=1.0, alpha=0.95)
    ax.plot(cyc_c, data, ls='none', marker='o', ms=4, mfc='white', mec='none', alpha=0.35)
style(ax, (-5, 65), (0, 300), 10, 5, 50, 25, '%d', '%d', 17)
label(ax, 'Cycle number', 'Discharge Capaticy (mAh g$^{-1}$)', 21, 13, 10)
hs = [Line2D([], [], ls='none', marker='o', ms=11, mfc=c, mec=c) for c in COL4]
leg(ax, hs, SAMPLES, (0.078, 0.40), 27, 1.0, 0.31, htp=0.32)
for t, x, y in zip(C_RATE_LABELS, C_RATE_X, C_RATE_Y):
    ax.text(x, y, t, fontsize=22, fontweight='bold', ha='center', va='center', color=K)
letter(91, 815, '(c)')

# ----------------------------------------------------------------- (d)
ax = add_ax(1243, 784, 2718, 1365)
cyc_d = np.arange(1, len(D_LNO) + 1)
for data, c in zip([D_LNO, D_1LA, D_2LA, D_3LA], COL4):
    ax.plot(cyc_d, data, color=c, lw=2.0, marker='o', ms=8, mfc='white', mec=c, mew=2.0)
ax.axvline(100, color=K, lw=2.6, ls=(0, (2.5, 3)))
style(ax, (0, 150), (50, 200), 25, 12.5, 20, 10, '%d', '%d', 22, spw=3.2, xpad=7)
label(ax, 'Cycle number', 'Discharge Capacity (mAh g$^{-1}$)', 29, 10, 10)
leg(ax, hs_d := [Line2D([], [], color=c, lw=3, marker='o', ms=9, mfc='white', mec=c, mew=2.2) for c in COL4],
    SAMPLES, (0.041, 0.431), 32, 2.1, 0.30)
arrow(ax, (98.4, 164.2), (92.5, 173.6), B)
ax.text(83.6, 173.0, '94.2%', color=TXT_BLUE, fontsize=33, fontweight='bold', ha='center', va='center')
arrow(ax, (147.8, 155.8), (141.3, 164.9), B)
ax.text(132.5, 164.2, '87.8%', color=TXT_BLUE, fontsize=33, fontweight='bold', ha='center', va='center')
arrow(ax, (98.4, 119.7), (91.9, 116.0), K)
ax.text(83.6, 116.0, '77.8%', color=K, fontsize=33, ha='center', va='center')
arrow(ax, (149.0, 109.0), (142.5, 104.6), K)
ax.text(133.7, 104.0, '70.3%', color=K, fontsize=33, ha='center', va='center')
ax.text(132.5, 64.5, '1C,2.7-4.3V', color=K, fontsize=30, fontweight='bold', ha='center', va='center')
letter(1047, 815, '(d)')

# ----------------------------------------------------------------- (e)
ax = add_ax(206, 1644, 925, 2224)
for i in range(4):
    ax.plot(E_CH_X[i], E_CH_Y[i], color=COL4b[i], lw=2.6)
    ax.plot(E_DC_X[i], E_DC_Y[i], color=COL4b[i], lw=2.6)
style(ax, (0, 200), (2.5, 4.5), 20, 10, 0.2, 0.1, '%d', '%.1f', 17)
label(ax, GAB, 'Voltage (V)', 23, 13, 12)
hs = [Line2D([], [], color=c, lw=3.5) for c in COL4b]
leg(ax, hs, CYCLE_LABELS, (0.059, 0.354), 25, 1.95, 0.34)
arrow(ax, (155.3, 3.434), (86.0, 3.094), K, lw=3.0)
ax.text(104.5, 4.39, 'LNO,1C', fontsize=23, fontweight='bold', ha='center', va='center')
letter(57, 1683, '(e)')

# ----------------------------------------------------------------- (f)
ax = add_ax(1126, 1642, 1849, 2224)
for i in range(4):
    ax.plot(F_CH_X[i], F_CH_Y[i], color=COL4b[i], lw=2.6)
    ax.plot(F_DC_X[i], F_DC_Y[i], color=COL4b[i], lw=2.6)
style(ax, (0, 200), (2.5, 4.5), 20, 10, 0.2, 0.1, '%d', '%.1f', 17)
label(ax, GAB, 'Voltage (V)', 23, 13, 12)
leg(ax, hs, CYCLE_LABELS, (0.063, 0.418), 25, 2.35, 0.36)
arrow(ax, (161.8, 3.525), (122.4, 3.26), K, lw=3.0)
ax.text(103, 4.38, '2La-LNO,1C', fontsize=23, fontweight='bold', ha='center', va='center')
letter(973, 1683, '(f)')

# ----------------------------------------------------------------- (g)
ax = add_ax(2053, 1651, 2764, 2227)
cyc_g = np.arange(1, len(G_LNO) + 1)
ax.plot(cyc_g, G_LNO, color='#3a3a3a', lw=2.0, marker='o', ms=8, mfc='#b8b8b8', mec='#3a3a3a', mew=1.5)
ax.plot(cyc_g, G_2LA, color='#2a84de', lw=2.0, marker='o', ms=8, mfc='#cde4fb', mec='#2a84de', mew=1.5)
ax.axvline(100, color='#333333', lw=2.4, ls=(0, (1.2, 2.6)))
style(ax, (0, 150), (3.0, 4.0), 25, 12.5, 0.2, 0.1, '%d', '%.1f', 17)
label(ax, 'Cycle number', 'Voltage (V)', 21, 13, 12)
hs = [Line2D([], [], color='#3a3a3a', lw=3, marker='o', ms=8, mfc='#b8b8b8', mec='#3a3a3a'),
      Line2D([], [], color='#2a84de', lw=3, marker='o', ms=8, mfc='#cde4fb', mec='#2a84de')]
leg(ax, hs, ['LNO', '2La-LNO'], (0.064, 0.254), 23, 2.1, 0.38)
GB = '#1565c0'
arrow(ax, (98.4, 3.782), (88.6, 3.822), GB, lw=2.6, ms=22)
ax.text(75.6, 3.836, '99.9%', color=GB, fontsize=26, fontweight='bold', ha='center', va='center')
arrow(ax, (148.4, 3.754), (138.5, 3.798), GB, lw=2.6, ms=22)
ax.text(125.6, 3.814, '99.2%', color=GB, fontsize=26, fontweight='bold', ha='center', va='center')
arrow(ax, (98.4, 3.555), (88.6, 3.527), '#333333', lw=2.6, ms=22)
ax.text(74.4, 3.527, '97.3%', color='#333333', fontsize=26, ha='center', va='center')
arrow(ax, (147.8, 3.531), (137.3, 3.499), '#333333', lw=2.6, ms=22)
ax.text(124.3, 3.495, '96.4%', color='#333333', fontsize=26, ha='center', va='center')
ax.text(138.5, 3.918, '1C', fontsize=23, fontweight='bold', ha='center', va='center')
letter(1881, 1683, '(g)')


# ----------------------------------------------------------------- (h), (i)
def cv_panel(box, upv, upi, dnv, dni, ylim, xlim, anchor, ls, a1, l1, a2, l2, title, tfs, tpos, let, lpos):
    ax = add_ax(*box)
    for k in range(5):
        v = list(upv[k]) + list(dnv[k])
        cur = np.array(list(upi[k]) + list(dni[k])) * CURRENT_UNIT
        ax.plot(v, cur, color=CV5[k], lw=2.4)
    style(ax, xlim, ylim, 0.2, 0.1, 0.0002, 0.0001, '%.1f', '%.4f', 17)
    label(ax, 'Potential (V vs.Li/Li$^{+}$)', 'Current (A)', 21, 13, 12)
    hs5 = [Line2D([], [], color=c, lw=3.5) for c in CV5]
    leg(ax, hs5, SCAN_LABELS, anchor, 19, 2.4, ls)
    ax.annotate('', xy=(a1[2], a1[3] * CURRENT_UNIT), xytext=(a1[0], a1[1] * CURRENT_UNIT),
                arrowprops=dict(arrowstyle='-|>', color=K, lw=2.4, mutation_scale=24, shrinkA=0, shrinkB=0))
    ax.text(l1[0], l1[1] * CURRENT_UNIT, 'I$_1$', fontsize=20, fontweight='bold', ha='center', va='center')
    ax.annotate('', xy=(a2[2], a2[3] * CURRENT_UNIT), xytext=(a2[0], a2[1] * CURRENT_UNIT),
                arrowprops=dict(arrowstyle='-|>', color=K, lw=2.4, mutation_scale=24, shrinkA=0, shrinkB=0))
    ax.text(l2[0], l2[1] * CURRENT_UNIT, 'I$_2$', fontsize=20, fontweight='bold', ha='center', va='center')
    ax.text(tpos[0], tpos[1] * CURRENT_UNIT, title, fontsize=tfs, fontweight='bold', ha='center', va='center')
    letter(lpos[0], lpos[1], let)
    return ax


cv_panel((215, 2368, 927, 2940), H_UP_V, H_UP_I, H_DN_V, H_DN_I, (-0.0006, 0.0008), (2.48, 4.70),
         (0.077, 0.916), 0.44, (3.845, 1.18, 3.896, 6.24), (3.96, 6.06), (3.585, -1.06, 3.562, -5.59),
         (3.65, -5.12), 'LNO', 26, (4.49, 7.0), '(h)', (59, 2409))
cv_panel((1132, 2369, 1843, 2940), I_UP_V, I_UP_I, I_DN_V, I_DN_I, (-0.0008, 0.0010), (2.50, 4.69),
         (0.084, 0.907), 0.48, (3.80, 2.38, 3.90, 9.74), (3.975, 8.99), (3.577, -1.87, 3.484, -7.78),
         (3.595, -7.4), '2La-LNO', 24.5, (4.39, 8.77), '(i)', (973, 2409))

# ----------------------------------------------------------------- (j)
ax = add_ax(2061, 2386, 2761, 2948)
jx = np.array(J_SQRT_RATE)
JCOL = ['#1f9e6e', '#d42a2a', K, '#2b73c0']
JMARK = ['o', 'v', 's', '^']
for data, c, m in zip([J_LNO_I1, J_2LA_I1, J_LNO_I2, J_2LA_I2], JCOL, JMARK):
    p = np.polyfit(jx, data, 1)
    ax.plot(jx, np.polyval(p, jx), color=c, lw=2.6)
    ax.plot(jx, data, ls='none', marker=m, ms=10, color=c)
ax.axhline(0, color=K, lw=2.4)
style(ax, (0.013, 0.026), (-0.0008, 0.0010), 0.002, 0.001, 0.0002, 0.0001, '%.3f', '%.4f', 17)
label(ax, 'Square root of rate (Vs$^{-1}$)$^{1/2}$', 'Peak current (A)', 21, 13, 12)
rows = [0.571, 0.506, 0.391, 0.327]
for yy, c, nm, sl in zip(rows, JCOL, J_NAMES, J_SLOPES):
    ax.plot([0.44, 0.515], [yy, yy], color=c, lw=3.0, transform=ax.transAxes)
    ax.text(0.527, yy, nm, fontsize=16, fontweight='bold', va='center', ha='left', transform=ax.transAxes)
    ax.text(0.736, yy, sl, fontsize=16, fontweight='bold', va='center', ha='left', transform=ax.transAxes)
letter(1899, 2409, '(j)')

fig.savefig('out.png', dpi=DPI, facecolor='white')
